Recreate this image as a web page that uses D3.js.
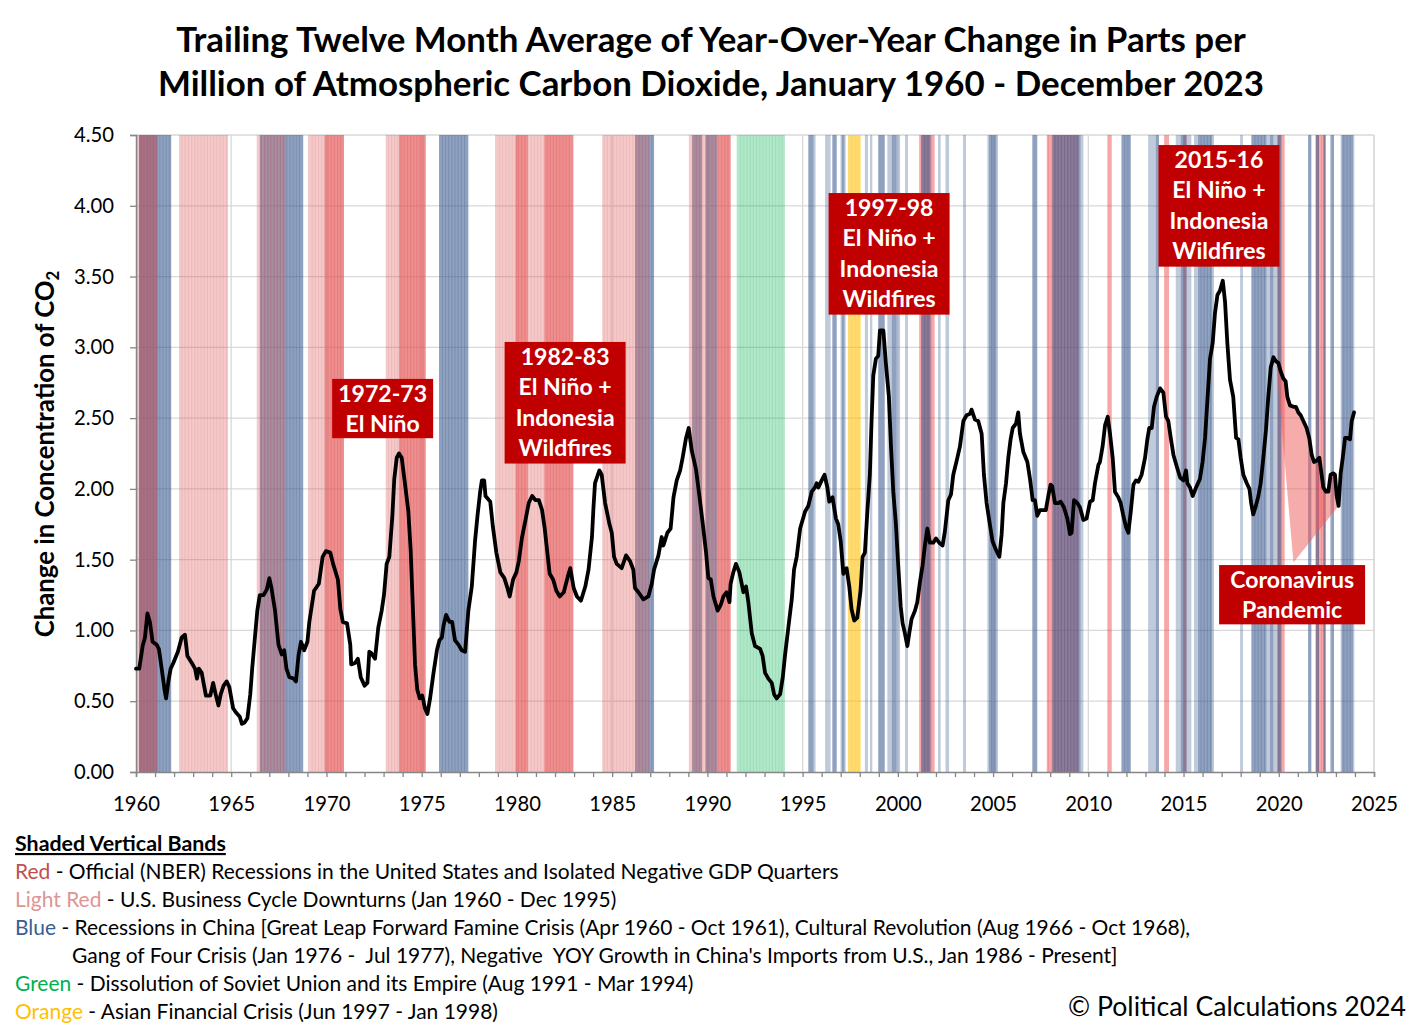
<!DOCTYPE html>
<html><head><meta charset="utf-8">
<script src="https://cdn.jsdelivr.net/npm/d3@7"></script>
<style>body{margin:0;background:#fff;} svg{display:block;}</style>
</head><body><svg id="chart" width="1423" height="1033"></svg>
<script>
// ---------------- DATA ----------------
const titleLines = [
  "Trailing Twelve Month Average of Year-Over-Year Change in Parts per",
  "Million of Atmospheric Carbon Dioxide, January 1960 - December 2023"
];
const yTicks = [0, 0.5, 1, 1.5, 2, 2.5, 3, 3.5, 4, 4.5];
const xLabelYears = [1960,1965,1970,1975,1980,1985,1990,1995,2000,2005,2010,2015,2020,2025];
const xMinorYears = d3.range(1960, 2026);

// shaded bands, [start year, end year]
const lightRedBands = [[1960.0,1961.12],[1962.26,1964.83],[1966.34,1967.87],[1969.03,1970.92],[1973.11,1975.21],[1978.85,1982.96],[1984.48,1986.94],[1989.03,1991.22]];
const redBands = [[1960.16,1961.12],[1969.9,1970.92],[1973.81,1975.21],[1979.93,1980.58],[1981.44,1982.96],[1990.52,1991.22],[2001.12,2001.93],[2007.82,2009.5],[2011.0,2011.23],[2013.98,2014.24],[2015.0,2015.16],[2019.93,2020.31],[2021.94,2022.46]];
const blueBandsDark = [[1960.16,1961.85],[1966.5,1968.78],[1975.91,1977.45],[1986.2,1987.2],[1989.2,1989.72],[1989.9,1990.52],
  [1995.30,1995.58],[1996.56,1996.79],[1997.05,1997.2],[1998.97,1999.31],[1999.68,1999.94],[2001.23,2001.72],[2004.78,2005.18],[2007.06,2007.32],[2008.11,2009.6],[2011.74,2012.23],[2013.54,2013.71],[2014.85,2015.16],[2015.76,2016.51],[2018.56,2019.36],[2019.54,2019.72],[2019.93,2020.14],[2021.54,2021.71],[2021.94,2022.11],[2022.34,2022.46],[2022.75,2022.9],[2023.3,2023.9]];
const blueBandsLight = [[1995.58,1995.68],[1996.18,1996.47],[1996.99,1997.05],[1997.2,1997.26],[1998.27,1998.43],[1998.54,1998.66],[1999.45,1999.68],[1999.94,2000.12],[2000.38,2000.53],[2002.11,2002.25],[2002.5,2002.69],[2003.42,2003.58],[2004.70,2004.78],[2005.18,2005.26],[2009.6,2009.74],[2013.14,2013.54],[2014.59,2014.85],[2015.16,2015.41],[2015.55,2015.76],[2016.51,2016.6],[2017.97,2018.12],[2019.36,2019.54],[2019.72,2019.93],[2022.69,2022.75],[2023.25,2023.3],[2023.9,2023.97]];
const greenBands = [[1991.54,1994.07]];
const orangeBands = [[1997.38,1998.05]];

// trailing twelve month average of YoY change in CO2 ppm: [year, value]
const co2Series = [
[1960.00,0.73],[1960.17,0.73],[1960.35,0.89],[1960.47,0.95],[1960.60,1.12],[1960.73,1.06],[1960.87,0.92],[1961.08,0.90],[1961.20,0.87],[1961.35,0.73],[1961.50,0.58],[1961.58,0.52],[1961.70,0.64],[1961.82,0.73],[1961.96,0.77],
[1962.20,0.85],[1962.40,0.95],[1962.57,0.97],[1962.70,0.82],[1962.93,0.77],[1963.10,0.73],[1963.20,0.66],[1963.30,0.73],[1963.45,0.70],[1963.67,0.54],[1963.90,0.54],
[1964.05,0.63],[1964.18,0.55],[1964.33,0.47],[1964.45,0.55],[1964.60,0.61],[1964.76,0.64],[1964.90,0.60],[1965.10,0.45],[1965.25,0.42],[1965.45,0.39],[1965.56,0.34],[1965.70,0.35],[1965.85,0.38],
[1966.00,0.55],[1966.10,0.73],[1966.25,0.96],[1966.37,1.14],[1966.50,1.25],[1966.70,1.25],[1966.87,1.29],[1967.00,1.37],[1967.10,1.31],[1967.30,1.14],[1967.48,0.90],[1967.65,0.83],[1967.78,0.86],[1967.90,0.73],
[1968.05,0.67],[1968.27,0.66],[1968.40,0.64],[1968.53,0.82],[1968.66,0.92],[1968.83,0.86],[1969.00,0.92],[1969.10,1.06],[1969.35,1.28],[1969.60,1.33],[1969.80,1.52],[1969.97,1.56],
[1970.20,1.55],[1970.35,1.47],[1970.60,1.36],[1970.73,1.15],[1970.86,1.06],[1971.08,1.05],[1971.25,0.90],[1971.30,0.76],[1971.50,0.77],[1971.65,0.80],[1971.80,0.67],[1972.00,0.61],[1972.15,0.63],[1972.25,0.85],[1972.35,0.84],[1972.55,0.80],[1972.72,1.02],[1972.90,1.14],
[1973.02,1.25],[1973.16,1.47],[1973.30,1.52],[1973.46,1.81],[1973.56,2.07],[1973.69,2.22],[1973.81,2.25],[1973.95,2.22],[1974.12,2.04],[1974.30,1.84],[1974.42,1.57],[1974.56,1.08],[1974.65,0.76],[1974.77,0.58],[1974.90,0.52],
[1975.03,0.54],[1975.17,0.45],[1975.30,0.41],[1975.44,0.52],[1975.62,0.70],[1975.80,0.86],[1975.93,0.93],[1976.06,0.95],[1976.14,1.03],[1976.28,1.11],[1976.46,1.06],[1976.60,1.06],[1976.75,0.93],[1976.93,0.90],
[1977.10,0.86],[1977.28,0.85],[1977.45,1.14],[1977.63,1.31],[1977.80,1.63],[1977.93,1.81],[1978.07,1.98],[1978.16,2.06],[1978.28,2.06],[1978.35,1.95],[1978.60,1.91],[1978.74,1.73],[1978.92,1.55],
[1979.13,1.41],[1979.34,1.37],[1979.48,1.31],[1979.62,1.24],[1979.80,1.36],[1979.97,1.41],[1980.10,1.49],[1980.27,1.66],[1980.45,1.78],[1980.62,1.90],[1980.80,1.95],[1980.97,1.92],
[1981.15,1.92],[1981.32,1.85],[1981.46,1.72],[1981.58,1.57],[1981.72,1.40],[1981.90,1.36],[1982.07,1.28],[1982.25,1.24],[1982.46,1.27],[1982.67,1.38],[1982.80,1.44],[1982.98,1.30],
[1983.15,1.24],[1983.36,1.21],[1983.59,1.31],[1983.76,1.43],[1983.94,1.66],[1984.02,1.87],[1984.10,2.04],[1984.25,2.10],[1984.33,2.13],[1984.45,2.10],[1984.63,1.90],[1984.86,1.75],[1984.98,1.69],
[1985.10,1.52],[1985.24,1.47],[1985.50,1.44],[1985.73,1.53],[1985.94,1.49],[1986.11,1.43],[1986.20,1.30],[1986.38,1.27],[1986.64,1.22],[1986.90,1.24],[1987.08,1.33],[1987.20,1.43],[1987.43,1.53],[1987.60,1.66],[1987.69,1.60],[1987.90,1.69],
[1988.07,1.72],[1988.22,1.94],[1988.39,2.06],[1988.57,2.13],[1988.70,2.22],[1988.88,2.36],[1989.02,2.43],[1989.18,2.27],[1989.40,2.14],[1989.58,1.95],[1989.76,1.75],[1989.93,1.55],
[1990.05,1.37],[1990.18,1.36],[1990.32,1.24],[1990.54,1.14],[1990.70,1.18],[1990.84,1.24],[1991.01,1.27],[1991.16,1.20],[1991.22,1.33],[1991.36,1.41],[1991.50,1.47],[1991.68,1.41],[1991.89,1.27],
[1992.03,1.31],[1992.15,1.20],[1992.33,0.98],[1992.50,0.89],[1992.77,0.87],[1992.90,0.82],[1993.03,0.70],[1993.20,0.66],[1993.38,0.63],[1993.50,0.55],[1993.64,0.52],[1993.82,0.55],[1993.96,0.67],
[1994.08,0.83],[1994.25,1.02],[1994.43,1.22],[1994.55,1.43],[1994.69,1.52],[1994.87,1.72],[1995.13,1.84],[1995.30,1.88],[1995.48,1.98],[1995.65,2.01],[1995.74,2.04],[1995.83,2.01],
[1996.00,2.06],[1996.15,2.10],[1996.30,2.01],[1996.40,1.91],[1996.57,1.94],[1996.75,1.79],[1996.87,1.75],[1997.00,1.63],[1997.14,1.40],[1997.31,1.44],[1997.45,1.31],[1997.57,1.15],[1997.71,1.07],[1997.87,1.09],
[1998.04,1.28],[1998.15,1.52],[1998.27,1.55],[1998.40,1.84],[1998.53,2.10],[1998.62,2.48],[1998.71,2.80],[1998.85,2.92],[1998.97,2.94],[1999.06,3.12],[1999.24,3.12],[1999.37,2.89],[1999.53,2.65],[1999.64,2.30],[1999.76,1.98],[1999.90,1.75],
[2000.02,1.46],[2000.15,1.17],[2000.25,1.05],[2000.37,0.98],[2000.50,0.89],[2000.60,0.98],[2000.72,1.08],[2000.90,1.14],[2001.02,1.20],[2001.16,1.34],[2001.30,1.46],[2001.42,1.60],[2001.55,1.72],[2001.68,1.62],[2001.86,1.62],
[2002.00,1.65],[2002.17,1.62],[2002.35,1.60],[2002.47,1.70],[2002.65,1.92],[2002.79,1.96],[2002.91,2.10],[2003.09,2.20],[2003.26,2.30],[2003.44,2.48],[2003.61,2.52],[2003.79,2.53],[2003.87,2.56],
[2004.05,2.49],[2004.22,2.48],[2004.40,2.39],[2004.52,2.10],[2004.66,1.90],[2004.83,1.75],[2004.97,1.63],[2005.15,1.57],[2005.33,1.52],[2005.45,1.68],[2005.54,1.90],[2005.68,2.04],[2005.80,2.22],[2005.92,2.35],
[2006.03,2.43],[2006.20,2.46],[2006.32,2.54],[2006.41,2.39],[2006.59,2.26],[2006.80,2.19],[2006.94,2.07],[2007.08,1.92],[2007.20,1.92],[2007.32,1.81],[2007.46,1.85],[2007.64,1.85],[2007.77,1.85],[2007.90,1.95],
[2008.02,2.03],[2008.10,2.02],[2008.25,1.90],[2008.43,1.90],[2008.55,1.91],[2008.72,1.87],[2008.90,1.79],[2009.04,1.68],[2009.12,1.69],[2009.25,1.92],[2009.42,1.90],[2009.56,1.87],[2009.74,1.78],[2009.91,1.79],
[2010.09,1.91],[2010.23,1.92],[2010.35,2.04],[2010.53,2.17],[2010.61,2.19],[2010.75,2.30],[2010.88,2.45],[2011.02,2.51],[2011.14,2.39],[2011.28,2.22],[2011.40,1.98],[2011.58,1.94],[2011.70,1.90],[2011.84,1.81],[2011.98,1.73],
[2012.10,1.69],[2012.23,1.84],[2012.37,2.03],[2012.50,2.06],[2012.63,2.05],[2012.80,2.10],[2012.98,2.22],[2013.10,2.35],[2013.20,2.43],[2013.33,2.43],[2013.45,2.58],[2013.59,2.65],[2013.77,2.71],[2013.94,2.68],
[2014.08,2.51],[2014.20,2.48],[2014.33,2.36],[2014.47,2.24],[2014.64,2.16],[2014.82,2.08],[2014.99,2.06],[2015.13,2.13],[2015.20,2.04],[2015.34,2.01],[2015.48,1.95],[2015.66,2.01],[2015.86,2.07],
[2016.00,2.19],[2016.13,2.36],[2016.25,2.62],[2016.39,2.92],[2016.53,3.03],[2016.65,3.24],[2016.78,3.37],[2016.91,3.40],[2017.06,3.47],[2017.18,3.32],[2017.30,3.03],[2017.44,2.77],[2017.61,2.65],[2017.76,2.36],[2017.88,2.35],
[2018.00,2.22],[2018.14,2.10],[2018.32,2.04],[2018.46,2.00],[2018.55,1.90],[2018.66,1.82],[2018.80,1.88],[2018.93,1.95],[2019.05,2.04],[2019.19,2.22],[2019.33,2.42],[2019.45,2.65],[2019.58,2.86],[2019.72,2.93],[2019.86,2.90],[2019.98,2.89],
[2020.10,2.83],[2020.24,2.78],[2020.36,2.76],[2020.45,2.65],[2020.59,2.59],[2020.77,2.58],[2020.90,2.58],[2021.03,2.54],[2021.15,2.52],[2021.29,2.48],[2021.46,2.43],[2021.60,2.36],[2021.73,2.24],[2021.85,2.19],[2021.99,2.20],
[2022.13,2.22],[2022.25,2.10],[2022.34,2.01],[2022.48,1.98],[2022.60,1.98],[2022.72,2.10],[2022.87,2.11],[2022.95,2.10],[2023.04,1.95],[2023.14,1.88],[2023.25,2.11],[2023.36,2.22],[2023.48,2.36],[2023.60,2.36],[2023.74,2.35],[2023.83,2.48],[2023.95,2.54]
];

// annotation boxes: centre year, top value, text lines
const annotations = [
  {year:1972.95, top:2.777, lines:["1972-73","El Niño"]},
  {year:1982.53, top:3.038, lines:["1982-83","El Niño +","Indonesia","Wildfires"]},
  {year:1999.54, top:4.090, lines:["1997-98","El Niño +","Indonesia","Wildfires"]},
  {year:2016.86, top:4.429, lines:["2015-16","El Niño +","Indonesia","Wildfires"]},
  {year:2020.70, top:1.462, lines:["Coronavirus","Pandemic"]}
];
const pandemicSpan = [2019.80, 2023.14];
const pandemicTip = [2020.77, 1.48];

const legendTitle = "Shaded Vertical Bands";
const legendItems = [
  {key:"Red", color:"#c0504d", text:" - Official (NBER) Recessions in the United States and Isolated Negative GDP Quarters"},
  {key:"Light Red", color:"#de9593", text:" - U.S. Business Cycle Downturns (Jan 1960 - Dec 1995)"},
  {key:"Blue", color:"#376092", text:" - Recessions in China [Great Leap Forward Famine Crisis (Apr 1960 - Oct 1961), Cultural Revolution (Aug 1966 - Oct 1968),"},
  {key:"", color:"#000", text:"Gang of Four Crisis (Jan 1976 -  Jul 1977), Negative  YOY Growth in China's Imports from U.S., Jan 1986 - Present]", indent:true},
  {key:"Green", color:"#00b050", text:" - Dissolution of Soviet Union and its Empire (Aug 1991 - Mar 1994)"},
  {key:"Orange", color:"#ffc000", text:" - Asian Financial Crisis (Jun 1997 - Jan 1998)"}
];
const copyright = "© Political Calculations 2024";

// ---------------- DRAWING ----------------
const svg = d3.select('#chart');
const FONT = "Lato, 'Open Sans', sans-serif";
const L = 136, R = 1374, T = 135, B = 772;
const x = d3.scaleLinear().domain([1960, 2025]).range([L, R]);
const y = d3.scaleLinear().domain([0, 4.5]).range([B, T]);

function fitSize(text, weight, target) {
  const t = svg.append('text').attr('font-family', FONT).attr('font-weight', weight)
    .attr('font-size', 100).attr('xml:space','preserve').style('white-space','pre').text(text);
  const w = t.node().getComputedTextLength();
  t.remove();
  return 100 * target / w;
}

svg.append('rect').attr('width', 1423).attr('height', 1033).attr('fill', '#fff');

// gridlines
const grid = svg.append('g');
grid.selectAll('line.h').data(yTicks.filter(d => d > 0)).join('line')
  .attr('x1', L).attr('x2', R).attr('y1', d => y(d)).attr('y2', d => y(d))
  .attr('stroke', '#d9d9d9').attr('stroke-width', 1.3);
grid.selectAll('line.v').data(xLabelYears.filter(d => d > 1960)).join('line')
  .attr('x1', d => x(d)).attr('x2', d => x(d)).attr('y1', T).attr('y2', B)
  .attr('stroke', '#d9d9d9').attr('stroke-width', 1.3);

// bands (layer order: red, blue, light red, green, orange)
const bandSets = [
  {data: redBands, color: 'rgb(235,60,60)', op: 0.45},
  {data: blueBandsLight, color: 'rgb(60,95,145)', op: 0.33},
  {data: blueBandsDark, color: 'rgb(55,88,140)', op: 0.56},
  {data: lightRedBands, color: 'rgb(220,100,100)', op: 0.35},
  {data: greenBands, color: 'rgb(0,176,80)', op: 0.3},
  {data: orangeBands, color: 'rgb(255,192,0)', op: 0.55}
];
const bandG = svg.append('g');
bandSets.forEach(set => {
  const g = bandG.append('g');
  g.selectAll('rect').data(set.data).join('rect')
    .attr('x', d => x(d[0])).attr('width', d => x(d[1]) - x(d[0]))
    .attr('y', T).attr('height', B - T)
    .attr('fill', set.color).attr('fill-opacity', set.op);
  // column texture: thin lines every two months inside wide bands
  const stripes = [];
  set.data.forEach(d => {
    if (d[1] - d[0] < 0.4) return;
    for (let m = Math.ceil(d[0] * 6) / 6 + 1/12; m < d[1] - 0.05; m += 1/6) stripes.push(m);
  });
  g.selectAll('line').data(stripes).join('line')
    .attr('x1', d => x(d)).attr('x2', d => x(d)).attr('y1', T).attr('y2', B)
    .attr('stroke', set.color).attr('stroke-opacity', set.op * 0.5).attr('stroke-width', 0.9);
});

// axes
const tickFs = fitSize('4.50', 400, 40);
const yAxis = svg.append('g').attr('transform', `translate(${L},0)`)
  .call(d3.axisLeft(y).tickValues(yTicks).tickFormat(d3.format('.2f')).tickSize(6).tickPadding(16));
const xAxis = svg.append('g').attr('transform', `translate(0,${B})`)
  .call(d3.axisBottom(x).tickValues(xMinorYears).tickFormat(d => d % 5 === 0 ? d : '').tickSize(5).tickPadding(20));
[yAxis, xAxis].forEach(a => {
  a.select('.domain').attr('stroke', '#868686').attr('stroke-width', 1.5);
  a.selectAll('.tick line').attr('stroke', '#868686').attr('stroke-width', 1.3);
  a.selectAll('.tick text').attr('font-family', FONT).attr('font-size', tickFs).attr('fill', '#000');
});
// right border gridline
svg.append('line').attr('x1', R).attr('x2', R).attr('y1', T).attr('y2', B).attr('stroke', '#d9d9d9').attr('stroke-width', 1.3);

// pandemic callout polygon
const polyPts = co2Series.filter(d => d[0] >= pandemicSpan[0] && d[0] <= pandemicSpan[1]).concat([pandemicTip]);
svg.append('path')
  .attr('d', d3.line().x(d => x(d[0])).y(d => y(d[1]))(polyPts) + 'Z')
  .attr('fill', 'rgb(240,90,90)').attr('fill-opacity', 0.5);

// data line
svg.append('path').datum(co2Series)
  .attr('d', d3.line().x(d => x(d[0])).y(d => y(d[1])))
  .attr('fill', 'none').attr('stroke', '#000').attr('stroke-width', 3.8)
  .attr('stroke-linejoin', 'round').attr('stroke-linecap', 'round');

// annotation boxes
const annFs = fitSize('Indonesia', 700, 99);
const lineH = 30.4;
annotations.forEach(a => {
  const g = svg.append('g');
  const texts = g.selectAll('text').data(a.lines).join('text')
    .attr('font-family', FONT).attr('font-weight', 700).attr('font-size', annFs)
    .attr('fill', '#fff').attr('text-anchor', 'middle')
    .attr('x', x(a.year)).attr('y', (d, i) => y(a.top) + 23 + i * lineH).text(d => d);
  let maxW = 0;
  texts.each(function () { maxW = Math.max(maxW, this.getComputedTextLength()); });
  const w = Math.round(maxW + (a.lines.length === 2 && a.lines[0].length < 9 ? 12 : 22));
  const h = a.lines.length * lineH - (a.lines.length === 2 ? 1.5 : 0);
  g.insert('rect', 'text').attr('x', x(a.year) - w / 2).attr('y', y(a.top))
    .attr('width', w).attr('height', h).attr('fill', '#c00000');
});

// title
const titleFs = fitSize(titleLines[0], 700, 1070);
svg.selectAll('text.title').data(titleLines).join('text').attr('class', 'title')
  .attr('x', 711).attr('y', (d, i) => 52 + i * 44)
  .attr('text-anchor', 'middle').attr('font-family', FONT).attr('font-weight', 700)
  .attr('font-size', titleFs).attr('fill', '#000').text(d => d);

// y axis title
const ytFs = fitSize('Change in Concentration of CO2', 700, 372);
const yt = svg.append('text').attr('transform', 'translate(54,454) rotate(-90)')
  .attr('text-anchor', 'middle').attr('font-family', FONT).attr('font-weight', 700)
  .attr('font-size', ytFs).attr('fill', '#000');
yt.append('tspan').text('Change in Concentration of CO');
yt.append('tspan').attr('font-size', ytFs * 0.65).attr('dy', ytFs * 0.18).text('2');

// legend
const legFs = fitSize(legendItems[2].key + legendItems[2].text, 400, 1176);
svg.append('text').attr('x', 15).attr('y', 851).attr('font-family', FONT)
  .attr('font-weight', 700).attr('font-size', fitSize(legendTitle, 700, 211)).attr('fill', '#000')
  .attr('text-decoration', 'underline').text(legendTitle);
legendItems.forEach((it, i) => {
  const t = svg.append('text').attr('x', it.indent ? 72 : 15).attr('y', 879 + i * 28)
    .attr('font-family', FONT).attr('font-size', legFs).attr('fill', '#000')
    .attr('xml:space', 'preserve').style('white-space', 'pre');
  if (it.key) t.append('tspan').attr('fill', it.color).text(it.key);
  t.append('tspan').text(it.text);
});
svg.append('text').attr('x', 1406).attr('y', 1016).attr('text-anchor', 'end')
  .attr('font-family', FONT).attr('font-size', fitSize(copyright, 400, 338)).attr('fill', '#000')
  .text(copyright);
</script>
</body></html>
